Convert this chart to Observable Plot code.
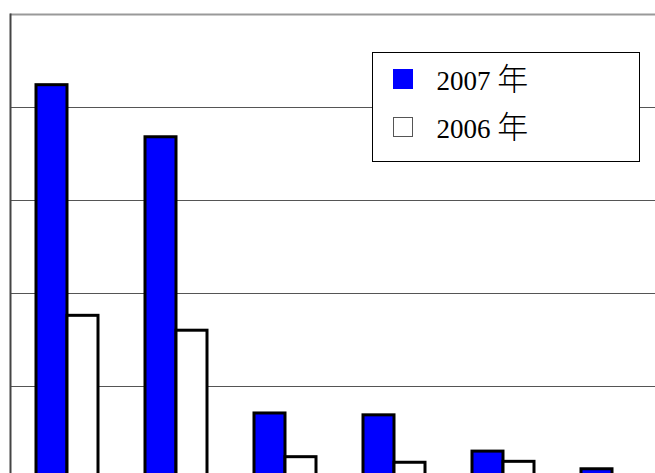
<!DOCTYPE html>
<html>
<head>
<meta charset="utf-8">
<script src="https://cdn.jsdelivr.net/npm/d3@7"></script>
<script src="https://cdn.jsdelivr.net/npm/@observablehq/plot@0.6"></script>
<style>
  html, body { margin: 0; padding: 0; background: #fff; }
  #wrap { position: relative; width: 655px; height: 473px; overflow: hidden; background: #fff; }
  #grid, #chart { position: absolute; left: 0; top: 0; width: 668px; }
  #wrap svg { max-width: none !important; }
  #legend {
    position: absolute; left: 372px; top: 52px; width: 268px; height: 110px;
    box-sizing: border-box; border: 1.5px solid #000; background: #fff; color: #000;
  }
  .row { position: absolute; left: 19.5px; height: 20px; display: flex; align-items: center; white-space: nowrap; }
  .sw { width: 20px; height: 20px; box-sizing: border-box; flex: none; }
  .lbl { margin-left: 24px; line-height: 20px; font-size: 27px; }
  .num { font-family: "Liberation Serif", "DejaVu Serif", serif; }
  .cjk { font-family: "Noto Sans CJK SC", sans-serif; font-size: 31px; font-weight: 300; }
</style>
</head>
<body>
<div id="wrap">
  <div id="grid"></div>
  <div id="chart"></div>
  <div id="legend"></div>
</div>
<script>
// ---- data ----
const categories = ["1", "2", "3", "4", "5", "6"];
const series = ["2007 年", "2006 年"];
const values2007 = [42.4, 36.8, 7.1, 6.9, 3.0, 1.1];
const values2006 = [17.6, 16.0, 2.4, 1.8, 1.9, 0.4];
const gridTicks = [10, 20, 30, 40];
const yTop = 50;
const seriesColors = ["#0000ff", "#ffffff"];

const data = [];
categories.forEach((c, i) => {
  data.push({category: c, series: series[0], value: values2007[i]});
  data.push({category: c, series: series[1], value: values2006[i]});
});

const frameOpts = {
  width: 668,
  height: 489,
  marginLeft: 10,
  marginRight: 0,
  marginTop: 14,
  marginBottom: 10
};

// background: gridlines, top border, left axis line
const grid = Plot.plot({
  ...frameOpts,
  y: {domain: [0, yTop], axis: null},
  style: {background: "#fff", maxWidth: "none"},
  marks: [
    Plot.ruleY(gridTicks, {stroke: "#555", strokeWidth: 1}),
    Plot.ruleY([yTop], {stroke: "#999", strokeWidth: 2}),
    Plot.frame({anchor: "left", stroke: "#444", strokeWidth: 2})
  ]
});
document.getElementById("grid").appendChild(grid);

// bars
const chart = Plot.plot({
  ...frameOpts,
  fx: {domain: categories, paddingInner: 0.4225, paddingOuter: 0.2144, axis: null, label: null},
  x: {domain: series, padding: 0, axis: null},
  y: {domain: [0, yTop], axis: null},
  color: {domain: series, range: seriesColors},
  style: {background: "transparent", maxWidth: "none"},
  marks: [
    Plot.barY(data, {fx: "category", x: "series", y: "value", fill: "series",
      stroke: "#000", strokeWidth: 3, inset: 0})
  ]
});
document.getElementById("chart").appendChild(chart);

// ---- legend ----
const legend = document.getElementById("legend");
series.forEach((s, i) => {
  const row = document.createElement("div");
  row.className = "row";
  row.style.top = (15.5 + i * 48) + "px";
  const sw = document.createElement("div");
  sw.className = "sw";
  sw.style.background = seriesColors[i];
  if (i === 1) sw.style.border = "1px solid #555";
  const lbl = document.createElement("span");
  lbl.className = "lbl";
  const [num, unit] = s.split(" ");
  const n = document.createElement("span");
  n.className = "num";
  n.textContent = num + " ";
  const u = document.createElement("span");
  u.className = "cjk";
  u.textContent = unit;
  lbl.appendChild(n);
  lbl.appendChild(u);
  row.appendChild(sw);
  row.appendChild(lbl);
  legend.appendChild(row);
});
</script>
</body>
</html>
